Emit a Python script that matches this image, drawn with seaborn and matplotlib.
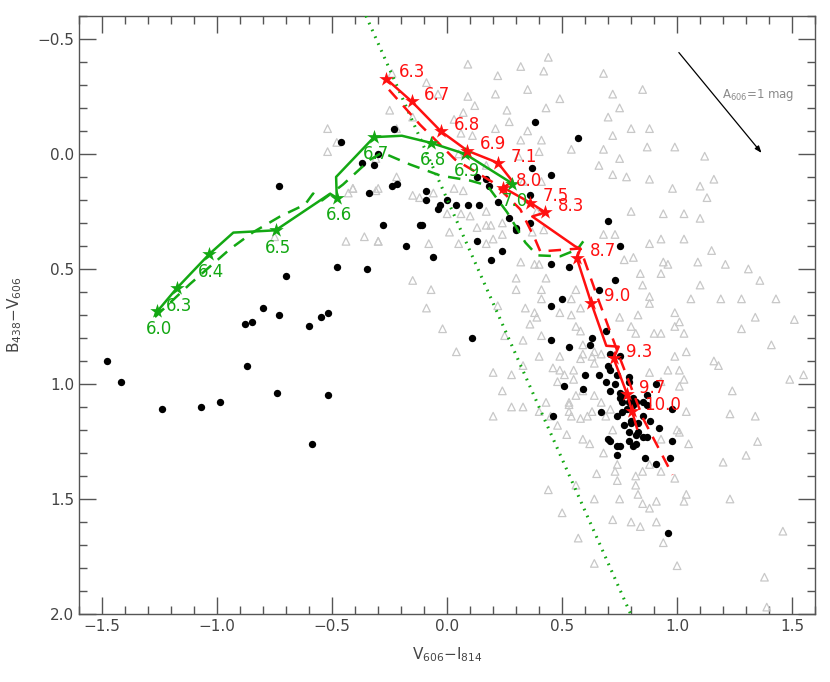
import numpy as np
import pandas as pd
import matplotlib
matplotlib.use('Agg')
import matplotlib.pyplot as plt
from matplotlib.ticker import MultipleLocator
import seaborn as sns

# --- field stars (grey open triangles) ---
tri_x = [-0.52, -0.48, -0.52, -0.41, -0.43, -0.31, -0.75, -0.44, -0.30, -0.31,
         0.09, 0.42, -0.09, -0.24, -0.04, 0.09, 0.21, 0.35, -0.25, 0.07,
         -0.15, 0.27, 0.21, 0.35, -0.22, 0.06, 0.11, 0.41, 0.05, 0.40,
         0.17, 0.31, -0.41, -0.22, -0.30, -0.15, -0.12, -0.06, 0.03, 0.07,
         0.33, 0.41, 0.00, 0.06, 0.10, 0.13, 0.17, 0.19, 0.24, 0.39,
         0.01, -0.36, -0.30, -0.08, 0.05, 0.37, 0.42, 0.17,
         0.80, 0.17, 0.20, 0.24, 0.68, 0.73, 0.88, 0.93, 0.32, 0.38,
         0.40, 0.43, 0.77, 0.81, 0.94, 0.96, 0.93, 0.84, 0.30, 0.30,
         0.41, 0.41, 0.49, 0.54, 0.56, 0.54, 0.58, 0.85, 0.88, 0.88,
         0.99, 0.22, 0.34, 0.38, 0.39, 0.36, 0.56, 0.58, 0.83, 0.75,
         0.80, 0.82, 0.99, 1.01, 0.90, 0.93, 1.03, 1.04, 0.25, 0.33,
         0.41, 0.40, 0.49, 0.59, 0.59, 0.64, 0.58, 0.64, 0.49, 0.55,
         0.20, 0.28, 0.33, 0.24, 1.01, 0.96, 0.93, 0.88, 1.01, 1.04,
         0.56, 0.53, 0.43, 0.33, 0.28, 0.20, 0.40, 0.54, 0.58, 0.61,
         0.48, 0.52, 0.59, 0.93, 1.01,
         0.99, 1.16, 1.18, 1.03, 1.24, 1.55, 1.23, 1.34, 1.00, 1.05,
         1.35, 1.30, 1.20, 0.93, 0.99, 1.04, 1.03, 1.23, 1.46, 1.38,
         1.00, 0.94, 0.91, 0.84, 0.80, 0.72, 0.88, 0.85, 0.91, 0.83,
         0.75, 0.64, 0.65, 0.74, 0.82, 0.82, 0.56, 0.62, 0.68, 0.72,
         0.85, 0.88, 0.74, 0.73, 0.45, 0.53, 0.46, 0.51, 0.48, 0.55,
         0.53, 0.63, 0.67, 0.59, 0.64, 0.67, 0.71, 0.63, 0.69,
         0.85, 0.88, 0.87, 0.99, 1.12,
         0.68, 0.72, 0.49, 0.44, 0.32, 0.43, 0.75, 0.70, 0.80, 0.72,
         0.54, 0.68, 0.75, 0.66, 0.72, 0.78, 0.88, 0.98, 1.10, 1.16,
         1.13, 1.03, 1.10, 0.94, 1.03, 1.15, 1.09, 1.21, 1.31, 1.36,
         1.28, 1.43, 1.34, 1.10, 1.19, 1.06, 1.28, 1.41, 1.49, 1.51,
         -0.15, -0.07, -0.09, -0.02, 0.04,
         0.12, 0.22, 0.26, 0.03, 0.32,
         0.44, 0.50, 0.57, 0.64, 1.39]
tri_y = [-0.11, -0.05, -0.01, 0.15, 0.17, 0.16, 0.36, 0.38, 0.38, 0.02,
         -0.39, -0.36, -0.31, -0.35, -0.26, -0.25, -0.26, -0.28, -0.19, -0.18,
         -0.16, -0.14, -0.11, -0.10, -0.11, -0.09, -0.08, -0.06, 0.00, -0.01,
         0.05, 0.01, 0.15, 0.10, 0.15, 0.18, 0.19, 0.17, 0.15, 0.16,
         0.12, 0.12, 0.26, 0.26, 0.27, 0.32, 0.31, 0.31, 0.30, 0.25,
         0.34, 0.36, 0.38, 0.39, 0.39, 0.34, 0.33, 0.39,
         0.25, 0.25, 0.37, 0.35, 0.35, 0.35, 0.39, 0.37, 0.47, 0.48,
         0.48, 0.54, 0.46, 0.45, 0.47, 0.48, 0.52, 0.52, 0.54, 0.59,
         0.59, 0.63, 0.69, 0.70, 0.59, 0.63, 0.67, 0.57, 0.62, 0.65,
         0.69, 0.66, 0.67, 0.69, 0.71, 0.74, 0.75, 0.77, 0.70, 0.71,
         0.75, 0.78, 0.75, 0.73, 0.78, 0.78, 0.78, 0.86, 0.79, 0.81,
         0.79, 0.88, 0.88, 0.83, 0.87, 0.86, 0.89, 0.91, 0.94, 0.94,
         0.95, 0.96, 0.92, 1.03, 0.94, 0.94, 0.99, 0.95, 1.01, 1.12,
         1.05, 1.08, 1.08, 1.10, 1.10, 1.14, 1.12, 1.14, 1.15, 1.14,
         1.18, 1.22, 1.24, 1.24, 1.21,
         0.88, 0.90, 0.92, 0.98, 1.03, 0.96, 1.13, 1.14, 1.20, 1.26,
         1.25, 1.31, 1.34, 1.38, 1.41, 1.48, 1.51, 1.50, 1.64, 1.84,
         1.79, 1.69, 1.60, 1.62, 1.60, 1.59, 1.54, 1.52, 1.51, 1.48,
         1.50, 1.50, 1.39, 1.42, 1.40, 1.44, 1.44, 1.26, 1.30, 1.20,
         1.38, 1.35, 1.35, 1.38, 1.14, 1.12, 0.93, 0.96, 0.99, 0.98,
         1.09, 0.88, 0.87, 1.03, 1.05, 1.08, 1.11, 1.12, 1.14,
         -0.28, -0.11, -0.03, -0.03, 0.01,
         -0.35, -0.26, -0.24, -0.42, -0.38, -0.20, -0.20, -0.16, -0.11, -0.08,
         -0.02, -0.02, 0.02, 0.05, 0.09, 0.10, 0.11, 0.15, 0.14, 0.11,
         0.19, 0.26, 0.28, 0.26, 0.37, 0.42, 0.47, 0.48, 0.50, 0.55,
         0.63, 0.63, 0.71, 0.57, 0.63, 0.63, 0.76, 0.83, 0.98, 0.72,
         0.55, 0.59, 0.67, 0.76, 0.86,
         -0.21, -0.34, -0.19, -0.15, -0.06,
         1.46, 1.56, 1.67, 1.78, 1.97]

# --- cluster members (black dots) ---
dot_x = [-1.48, -1.42, -1.24, -1.07, -0.99, -0.88, -0.85, -0.80, -0.73, -0.87,
         -0.74, -0.60, -0.55, -0.52, -0.52, -0.59, -0.46, -0.73, -0.37, -0.32,
         -0.30, -0.34, -0.48, -0.35, -0.70, -0.23, 0.38, -0.22, -0.24, -0.09,
         -0.09, -0.03, -0.04, 0.00, 0.04, 0.09, 0.14, 0.13, 0.17, 0.18,
         0.22, 0.27, 0.36, 0.36, 0.37, 0.30, -0.28, -0.12, -0.11, 0.13,
         -0.18, 0.70, 0.75, 0.73, 0.66, 0.50, 0.45, 0.53, 0.45, 0.30,
         0.24, 0.19, 0.45, 0.53, 0.69, 0.63, 0.62, 0.71, 0.75, 0.60,
         0.70, 0.66, 0.69, 0.74, 0.73, 0.51, 0.59, 0.71, 0.75, 0.75,
         0.76, 0.81, 0.81, 0.78, 0.76, 0.67, 0.74, 0.80, 0.85, 0.91,
         0.87, 0.85, 0.46, 0.77, 0.79, 0.83, 0.85, 0.92, 0.98, 0.70,
         0.74, 0.81, 0.71, 0.79, 0.79, 0.77, 0.79, 0.82, 0.87, 0.98,
         0.88, 0.80, 0.83, 0.82, 0.87, 0.71, 0.79, 0.82, 0.75, 0.74,
         0.86, 0.97, 0.91, 0.96, 0.11, -0.06, 0.57, 0.45]
dot_y = [0.90, 0.99, 1.11, 1.10, 1.08, 0.74, 0.73, 0.67, 0.70, 0.92,
         1.04, 0.75, 0.71, 0.69, 1.05, 1.26, -0.05, 0.14, 0.04, 0.05,
         0.00, 0.17, 0.49, 0.50, 0.53, -0.11, -0.14, 0.13, 0.14, 0.16,
         0.20, 0.22, 0.24, 0.20, 0.22, 0.22, 0.22, 0.10, 0.11, 0.14,
         0.21, 0.28, 0.30, 0.18, 0.06, 0.32, 0.31, 0.31, 0.31, 0.38,
         0.40, 0.29, 0.40, 0.55, 0.59, 0.63, 0.66, 0.49, 0.48, 0.33,
         0.42, 0.46, 0.81, 0.84, 0.77, 0.80, 0.83, 0.87, 0.88, 0.96,
         0.92, 0.96, 0.99, 0.96, 1.00, 1.01, 1.02, 1.03, 1.04, 1.06,
         1.08, 1.06, 1.09, 1.11, 1.12, 1.12, 1.14, 1.16, 1.14, 1.00,
         1.05, 1.08, 1.14, 1.18, 1.21, 1.21, 1.23, 1.19, 1.25, 1.24,
         1.27, 1.27, 0.94, 0.97, 0.99, 1.05, 1.08, 1.08, 1.09, 1.11,
         1.16, 1.17, 1.17, 1.22, 1.23, 1.25, 1.25, 1.26, 1.27, 1.31,
         1.32, 1.32, 1.35, 1.65, 0.80, 0.45, -0.07, 0.09]

# --- green track (solid) and its age marks ---
g_line_x = [-1.261, -1.177, -1.035, -0.930, -0.746, -0.509, -0.480, -0.483,
            -0.318, -0.197, -0.070, 0.078, 0.284]
g_line_y = [0.685, 0.585, 0.436, 0.342, 0.332, 0.173, 0.191, 0.100,
            -0.073, -0.079, -0.048, 0.000, 0.129]
g_star_x = [-1.261, -1.177, -1.035, -0.746, -0.480, -0.318, -0.070, 0.078, 0.284]
g_star_y = [0.685, 0.585, 0.436, 0.332, 0.191, -0.073, -0.048, 0.000, 0.129]
g_labels = ['6.0', '6.3', '6.4', '6.5', '6.6', '6.7', '6.8', '6.9', '7.0']

# green track (dashed)
g_dash_x = [-1.271, -1.119, -0.945, -0.845, -0.727, -0.618, -0.583, -0.544,
            -0.453, -0.335, -0.283, -0.161, -0.030, 0.100, 0.174, 0.261,
            0.340, 0.392, 0.492, 0.566, 0.592]
g_dash_y = [0.709, 0.566, 0.414, 0.341, 0.272, 0.220, 0.172, 0.202,
            0.133, 0.025, -0.006, 0.046, 0.094, 0.116, 0.137, 0.254,
            0.385, 0.441, 0.445, 0.415, 0.380]

# --- red track (solid) and its age marks ---
r_line_x = [-0.266, -0.154, -0.027, 0.088, 0.221, 0.284, 0.245, 0.361, 0.427,
            0.370, 0.557, 0.579, 0.565, 0.570, 0.626, 0.692, 0.746, 0.724,
            0.782, 0.804, 0.826]
r_line_y = [-0.327, -0.228, -0.098, -0.014, 0.039, 0.119, 0.147, 0.212, 0.254,
            0.272, 0.402, 0.412, 0.451, 0.472, 0.646, 0.834, 0.838, 0.889,
            1.043, 1.118, 1.195]
r_star_x = [-0.266, -0.154, -0.027, 0.088, 0.221, 0.245, 0.361, 0.427,
            0.565, 0.626, 0.724, 0.782, 0.804]
r_star_y = [-0.327, -0.228, -0.098, -0.014, 0.039, 0.147, 0.212, 0.254,
            0.451, 0.646, 0.889, 1.043, 1.118]
r_labels = ['6.3', '6.7', '6.8', '6.9', '7.1', '8.0', '7.5', '8.3',
            '8.7', '9.0', '9.3', '9.7', '10.0']

# red track (dashed)
r_dash_x = [-0.253, -0.118, 0.035, 0.200, 0.318, 0.383, 0.405, 0.579,
            0.657, 0.753, 0.853, 0.980]
r_dash_y = [-0.279, -0.127, 0.025, 0.124, 0.241, 0.372, 0.424, 0.411,
            0.632, 0.892, 1.152, 1.395]

# dotted green boundary line
dot_line_x = [-0.353, 0.798]
dot_line_y = [-0.60, 2.00]

# reddening vector
arrow_start = (1.00, -0.45)
arrow_end = (1.375, 0.005)

GREEN = '#13a813'
RED = '#ff1010'

sns.set_style('ticks')
plt.rcParams['font.family'] = ['DejaVu Sans']

fig = plt.figure(figsize=(8.3, 6.82), dpi=100)
ax = fig.add_axes([0.0955, 0.0997, 0.8865, 0.877])

sns.scatterplot(x=tri_x, y=tri_y, marker='^', s=30, facecolor='none',
                edgecolor='#c8c8c8', linewidth=0.9, ax=ax, zorder=1)
sns.scatterplot(x=dot_x, y=dot_y, marker='o', s=28, color='black',
                edgecolor='black', linewidth=0, ax=ax, zorder=2)

sns.lineplot(x=dot_line_x, y=dot_line_y, sort=False, estimator=None, ax=ax,
             color=GREEN, lw=2.2, linestyle=(0, (0.55, 1.9)), zorder=3)

sns.lineplot(x=g_dash_x, y=g_dash_y, sort=False, estimator=None, ax=ax,
             color=GREEN, lw=1.8, linestyle=(0, (5, 3.5)), zorder=3)
sns.lineplot(x=g_line_x, y=g_line_y, sort=False, estimator=None, ax=ax,
             color=GREEN, lw=1.8, zorder=4)
sns.scatterplot(x=g_star_x, y=g_star_y, marker='*', s=120, color=GREEN,
                edgecolor=GREEN, linewidth=0, ax=ax, zorder=5)

sns.lineplot(x=r_dash_x, y=r_dash_y, sort=False, estimator=None, ax=ax,
             color=RED, lw=1.8, linestyle=(0, (5, 3.5)), zorder=3)
sns.lineplot(x=r_line_x, y=r_line_y, sort=False, estimator=None, ax=ax,
             color=RED, lw=1.8, zorder=4)
sns.scatterplot(x=r_star_x, y=r_star_y, marker='*', s=120, color=RED,
                edgecolor=RED, linewidth=0, ax=ax, zorder=5)

for x, y, lab in zip(g_star_x, g_star_y, g_labels):
    ax.annotate(lab, (x, y), xytext=(1.5, -12.5), textcoords='offset points',
                ha='center', va='center', color=GREEN, fontsize=12, zorder=6)
for x, y, lab in zip(r_star_x, r_star_y, r_labels):
    ax.annotate(lab, (x, y), xytext=(9, 4.5), textcoords='offset points',
                ha='left', va='center', color=RED, fontsize=12, zorder=6)

ax.annotate('', xy=arrow_end, xytext=arrow_start,
            arrowprops=dict(arrowstyle='-|>,head_length=0.4,head_width=0.15',
                            color='black', lw=0.9))
ax.text(1.196, -0.257, 'A$_{606}$=1 mag', color='#8a8a8a', fontsize=8.5,
        ha='left', va='center')

ax.set_xlim(-1.6, 1.6)
ax.set_ylim(2.0, -0.6)
ax.xaxis.set_major_locator(MultipleLocator(0.5))
ax.xaxis.set_minor_locator(MultipleLocator(0.1))
ax.yaxis.set_major_locator(MultipleLocator(0.5))
ax.yaxis.set_minor_locator(MultipleLocator(0.1))
ax.tick_params(which='both', direction='in', top=True, right=True,
               color='#555555', labelcolor='#444444', labelsize=11)
ax.tick_params(which='major', length=12, width=1)
ax.tick_params(which='minor', length=6, width=1)
for sp in ax.spines.values():
    sp.set_color('#555555')
    sp.set_linewidth(1)

ax.set_xlabel('V$_{606}$$-$I$_{814}$', fontsize=11, color='#444444', labelpad=8)
ax.set_ylabel('B$_{438}$$-$V$_{606}$', fontsize=11, color='#444444', labelpad=10)

fig.savefig('out.png', dpi=100)
